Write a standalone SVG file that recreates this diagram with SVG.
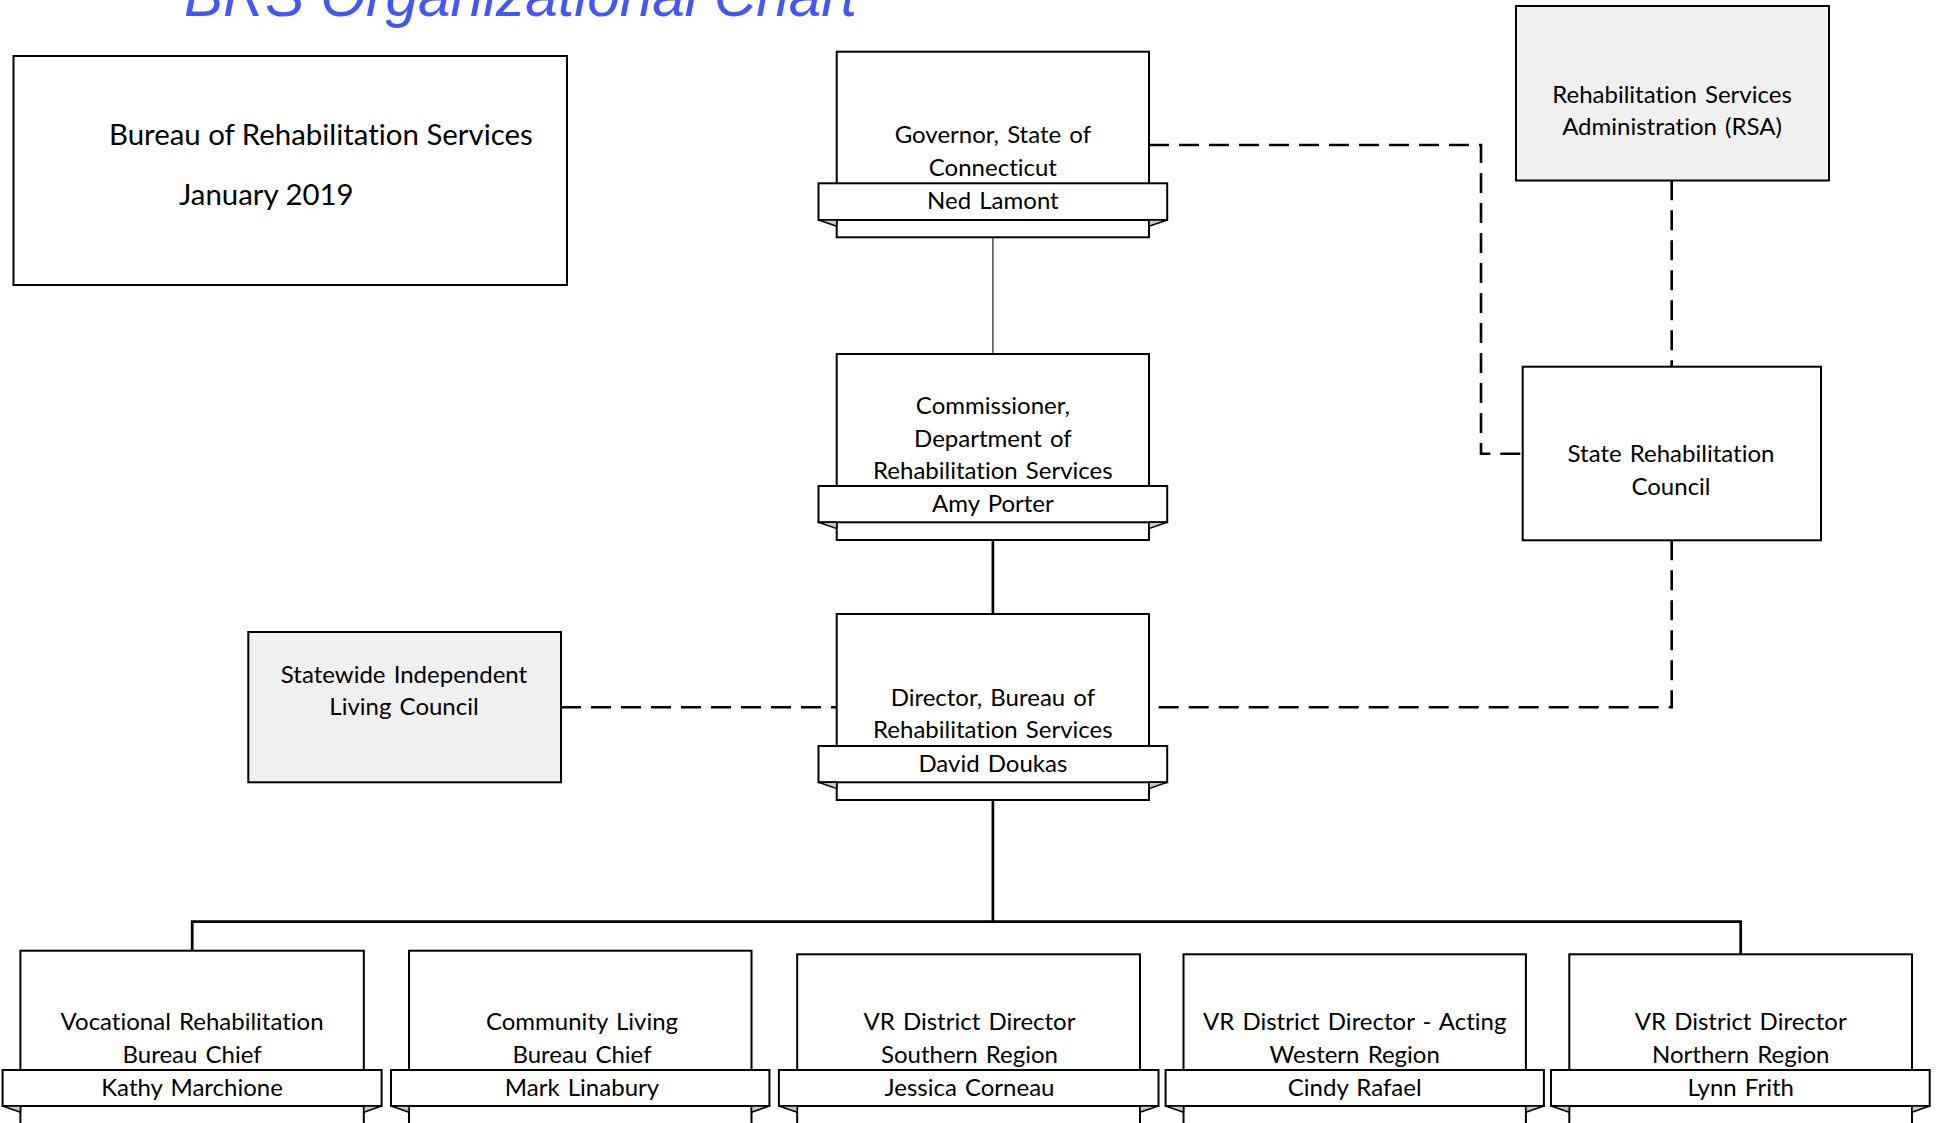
<svg xmlns="http://www.w3.org/2000/svg" width="1938" height="1123" viewBox="0 0 1938 1123">
<style>
.bg{fill:#ffffff}
.box{fill:#ffffff;stroke:#000;stroke-width:2}
.gbox{fill:#f0f0f0;stroke:#000;stroke-width:2}
.band{fill:#ffffff;stroke:#000;stroke-width:2}
.fold{fill:#c8c8c8;stroke:#000;stroke-width:1.5;stroke-linejoin:round}
.t{font-family:Lato,"Liberation Sans",sans-serif;font-size:24px;fill:#000;text-anchor:middle;word-spacing:2px;font-variant-ligatures:none}
.info{font-family:Lato,"Liberation Sans",sans-serif;font-size:29.4px;fill:#000;font-variant-ligatures:none}
.title{font-family:"Liberation Sans",Arial,sans-serif;font-size:58.5px;font-style:italic;fill:#4455ff}
.solid{fill:none;stroke:#000;stroke-width:2.7}
.thin{fill:none;stroke:#333;stroke-width:1.3}
.dash{fill:none;stroke:#000;stroke-width:2.6;stroke-dasharray:20 10}
</style>
<rect class="bg" x="0" y="0" width="1938" height="1123"/>
<text class="title" x="184" y="15.5">BRS Organizational Chart</text>

<g id="info">
<rect class="box" x="13.5" y="56" width="553.5" height="229"/>
<text class="info" x="109" y="144.5">Bureau of Rehabilitation Services</text>
<text class="info" x="179" y="204.5">January 2019</text>
</g>

<g id="connectors">
<path class="thin" d="M992.9 237.3V354"/>
<path class="solid" d="M992.9 540V614"/>
<path class="solid" d="M992.9 800V921.7"/>
<path class="solid" d="M192.2 950.7V921.7H1740.7V954.3"/>
<path class="dash" d="M1149 145H1481V453.7H1522.7"/>
<path class="dash" d="M1671.7 180.3V366.7"/>
<path class="dash" d="M1671.7 540.3V707.3H1149"/>
<path class="dash" d="M561 707.3H836.7"/>
</g>

<g id="rsa">
<rect class="gbox" x="1516" y="6" width="313" height="174.5"/>
<text class="t" x="1672" y="102.7">Rehabilitation Services</text>
<text class="t" x="1672" y="134.5">Administration (RSA)</text>
</g>

<g id="src">
<rect class="box" x="1522.7" y="366.7" width="298.3" height="173.6"/>
<text class="t" x="1671" y="461.7">State Rehabilitation</text>
<text class="t" x="1671" y="495">Council</text>
</g>

<g id="silc">
<rect class="gbox" x="248.3" y="632" width="312.7" height="150.3"/>
<text class="t" x="404" y="682.7">Statewide Independent</text>
<text class="t" x="404" y="715">Living Council</text>
</g>

<g id="governor">
<rect class="box" x="836.7" y="51.7" width="312.3" height="185.6"/>
<rect class="band" x="818.5" y="183.3" width="348.7" height="36.7"/>
<path class="fold" d="M818.5 220H836.7V226.3Z"/>
<path class="fold" d="M1167.2 220H1149V226.3Z"/>
<text class="t" x="992.9" y="143.3">Governor, State of</text>
<text class="t" x="992.9" y="176">Connecticut</text>
<text class="t" x="992.9" y="209">Ned Lamont</text>
</g>

<g id="commissioner">
<rect class="box" x="836.7" y="354" width="312.3" height="186"/>
<rect class="band" x="818.5" y="486" width="348.7" height="36.3"/>
<path class="fold" d="M818.5 522.3H836.7V528.6Z"/>
<path class="fold" d="M1167.2 522.3H1149V528.6Z"/>
<text class="t" x="992.9" y="414">Commissioner,</text>
<text class="t" x="992.9" y="446.5">Department of</text>
<text class="t" x="992.9" y="479">Rehabilitation Services</text>
<text class="t" x="992.9" y="511.7">Amy Porter</text>
</g>

<g id="director">
<rect class="box" x="836.7" y="614" width="312.3" height="186"/>
<rect class="band" x="818.5" y="746" width="348.7" height="36.3"/>
<path class="fold" d="M818.5 782.3H836.7V788.6Z"/>
<path class="fold" d="M1167.2 782.3H1149V788.6Z"/>
<text class="t" x="992.9" y="705.5">Director, Bureau of</text>
<text class="t" x="992.9" y="738">Rehabilitation Services</text>
<text class="t" x="992.9" y="771.7">David Doukas</text>
</g>

<g id="vr-chief">
<rect class="box" x="20.4" y="950.7" width="343.4" height="180"/>
<rect class="band" x="2.6" y="1070" width="379" height="36"/>
<path class="fold" d="M2.6 1106H20.4V1112.3Z"/>
<path class="fold" d="M381.6 1106H363.8V1112.3Z"/>
<text class="t" x="192.1" y="1030">Vocational Rehabilitation</text>
<text class="t" x="192.1" y="1062.7">Bureau Chief</text>
<text class="t" x="192.1" y="1095.7">Kathy Marchione</text>
</g>

<g id="cl-chief">
<rect class="box" x="409" y="950.7" width="342.5" height="180"/>
<rect class="band" x="391" y="1070" width="378.4" height="36"/>
<path class="fold" d="M391 1106H409V1112.3Z"/>
<path class="fold" d="M769.4 1106H751.5V1112.3Z"/>
<text class="t" x="582" y="1030">Community Living</text>
<text class="t" x="582" y="1062.7">Bureau Chief</text>
<text class="t" x="582" y="1095.7">Mark Linabury</text>
</g>

<g id="vr-south">
<rect class="box" x="797.2" y="954.3" width="342.8" height="180"/>
<rect class="band" x="778.9" y="1070" width="379.6" height="36"/>
<path class="fold" d="M778.9 1106H797.2V1112.3Z"/>
<path class="fold" d="M1158.5 1106H1140V1112.3Z"/>
<text class="t" x="969.5" y="1030">VR District Director</text>
<text class="t" x="969.5" y="1062.7">Southern Region</text>
<text class="t" x="969.5" y="1095.7">Jessica Corneau</text>
</g>

<g id="vr-west">
<rect class="box" x="1183.5" y="954.3" width="342.4" height="180"/>
<rect class="band" x="1165.6" y="1070" width="378.3" height="36"/>
<path class="fold" d="M1165.6 1106H1183.5V1112.3Z"/>
<path class="fold" d="M1543.9 1106H1525.9V1112.3Z"/>
<text class="t" x="1354.7" y="1030">VR District Director - Acting</text>
<text class="t" x="1354.7" y="1062.7">Western Region</text>
<text class="t" x="1354.7" y="1095.7">Cindy Rafael</text>
</g>

<g id="vr-north">
<rect class="box" x="1569.3" y="954.3" width="342.7" height="180"/>
<rect class="band" x="1551" y="1070" width="378.7" height="36"/>
<path class="fold" d="M1551 1106H1569.3V1112.3Z"/>
<path class="fold" d="M1929.7 1106H1912V1112.3Z"/>
<text class="t" x="1740.7" y="1030">VR District Director</text>
<text class="t" x="1740.7" y="1062.7">Northern Region</text>
<text class="t" x="1740.7" y="1095.7">Lynn Frith</text>
</g>
</svg>
